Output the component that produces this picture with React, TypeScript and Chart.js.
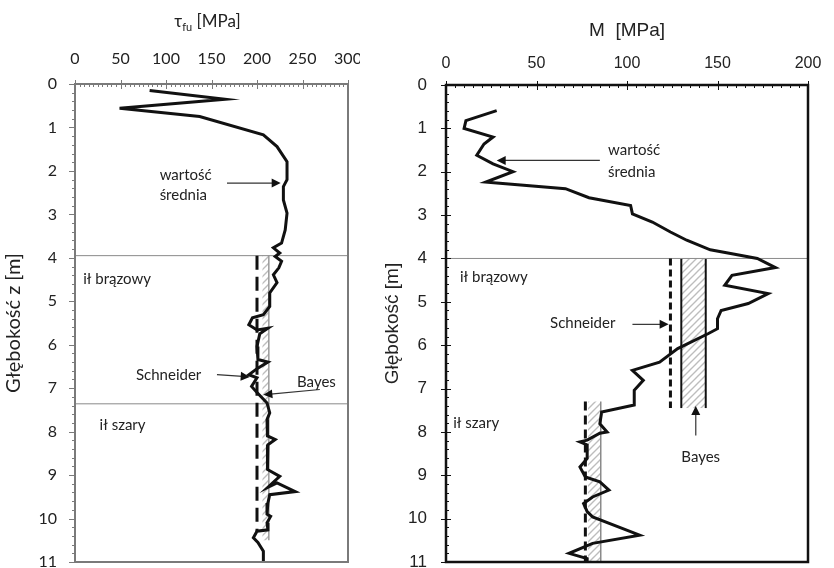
import React, { useEffect, useRef } from 'react';
import { Chart, registerables } from 'chart.js';
Chart.register(...registerables);

// ---------- Left panel: tau_fu profile ----------
const tauDepth = [0.15, 0.35, 0.56, 0.75, 1.17, 1.44, 1.79, 2.2, 2.36, 2.67, 2.97, 3.36, 3.66, 3.77, 3.89, 3.97, 4.08, 4.23, 4.39, 4.57, 4.81, 5.12, 5.31, 5.38, 5.54, 5.66, 5.62, 5.75, 6.04, 6.34, 6.4, 6.55, 6.69, 6.76, 6.96, 7.1, 7.34, 7.57, 7.72, 7.9, 8.1, 8.18, 8.3, 8.72, 8.87, 9.03, 9.28, 9.18, 9.38, 9.45, 9.64, 9.9, 9.95, 10.1, 10.26, 10.29, 10.44, 10.55, 10.75, 10.98];
const tauValue = [82, 165, 49, 137, 207, 222, 233, 233, 229, 229, 233, 231, 227, 218, 225, 220, 227, 224, 218, 222, 214, 214, 207, 195, 191, 200, 212, 203, 200, 201, 212, 200, 191, 200, 194, 200, 211, 214, 211, 212, 211, 220, 212, 211, 212, 225, 212, 222, 242, 214, 212, 211, 215, 211, 212, 200, 196, 201, 207, 207];
const tauTicks = [0, 50, 100, 150, 200, 250, 300];
const tauSchneiderValue = [200, 200];
const tauSchneiderDepth = [3.95, 10.3];
const tauBayesRange = [206, 213];
const tauBayesDepth = [3.95, 10.5];
const tauLayerDepth = [3.95, 7.36];

// ---------- Right panel: M profile ----------
const mDepth = [0.59, 0.82, 1.0, 1.2, 1.36, 1.62, 1.82, 2.0, 2.24, 2.26, 2.39, 2.6, 2.78, 2.97, 3.16, 3.39, 3.58, 3.8, 3.89, 4.0, 4.21, 4.39, 4.62, 4.81, 5.04, 5.2, 5.39, 5.62, 5.73, 6.08, 6.39, 6.58, 6.81, 7.04, 7.38, 7.54, 7.81, 8.0, 8.03, 8.19, 8.23, 8.3, 8.61, 8.81, 9.04, 9.15, 9.34, 9.5, 9.65, 9.84, 9.96, 10.38, 10.57, 10.8, 10.92, 11.0];
const mValue = [28, 11, 10, 26, 21, 17, 26, 37, 22, 28, 66, 79, 102, 103, 114, 124, 133, 146, 158, 172, 182, 158, 154, 178, 167, 152, 150, 150, 145, 128, 118, 103, 109, 104, 104, 86, 85, 89, 85, 78, 74, 78, 78, 74, 77, 85, 90, 81, 76, 78, 81, 107, 81, 68, 78, 78];
const mTicks = [0, 50, 100, 150, 200];
const mSchneiderUpperValue = [124, 124];
const mSchneiderUpperDepth = [4.0, 7.45];
const mSchneiderLowerValue = [77, 77];
const mSchneiderLowerDepth = [7.3, 11.0];
const mBayesUpperRange = [130, 143.5];
const mBayesUpperDepth = [4.0, 7.45];
const mBayesLowerRange = [78.5, 85.5];
const mBayesLowerDepth = [7.3, 11.0];
const mLayerDepth = [4.0];

const depthTicks = [0, 1, 2, 3, 4, 5, 6, 7, 8, 9, 10, 11];

type Note = { text: string; x: number; d: number; align?: CanvasTextAlign };
type Arrow = { x1: number; d1: number; x2: number; d2: number };
type Band = { range: number[]; depth: number[]; leftEdge: string | null; rightEdge: string | null; edgeWidth: number };

const tauNotes: Note[] = [
  { text: 'wartość', x: 93, d: 2.09 },
  { text: 'średnia', x: 93, d: 2.55 },
  { text: 'ił brązowy', x: 9, d: 4.48 },
  { text: 'Schneider', x: 67, d: 6.69 },
  { text: 'Bayes', x: 244, d: 6.85 },
  { text: 'ił szary', x: 27, d: 7.84 },
];
const tauArrows: Arrow[] = [
  { x1: 167, d1: 2.28, x2: 226, d2: 2.28 },
  { x1: 156, d1: 6.69, x2: 192, d2: 6.74 },
  { x1: 269, d1: 7.03, x2: 207, d2: 7.15 },
];
const mNotes: Note[] = [
  { text: 'wartość', x: 89.5, d: 1.51 },
  { text: 'średnia', x: 89.5, d: 2.02 },
  { text: 'ił brązowy', x: 7.7, d: 4.43 },
  { text: 'Schneider', x: 57.5, d: 5.5 },
  { text: 'Bayes', x: 130, d: 8.58 },
  { text: 'ił szary', x: 4, d: 7.8 },
];
const mArrows: Arrow[] = [
  { x1: 85, d1: 1.74, x2: 28, d2: 1.74 },
  { x1: 103, d1: 5.52, x2: 123, d2: 5.52 },
  { x1: 138, d1: 8.08, x2: 138, d2: 7.4 },
];

function pts(xs: number[], ds: number[]) {
  return xs.map((v, i) => ({ x: v, y: ds[i] }));
}

function lineDs(xs: number[], ds: number[], color: string, width: number, dash: number[] = []) {
  return {
    data: pts(xs, ds),
    showLine: true,
    pointRadius: 0,
    borderColor: color,
    backgroundColor: color,
    borderWidth: width,
    borderDash: dash,
    fill: false,
    tension: 0,
  };
}

function hatchPattern(ctx: CanvasRenderingContext2D) {
  const c = document.createElement('canvas');
  c.width = 7;
  c.height = 7;
  const g = c.getContext('2d')!;
  g.fillStyle = '#ffffff';
  g.fillRect(0, 0, 7, 7);
  g.strokeStyle = '#bdbdbd';
  g.lineWidth = 1.4;
  g.beginPath();
  g.moveTo(-1, 8); g.lineTo(8, -1);
  g.moveTo(-4.5, 4.5); g.lineTo(4.5, -4.5);
  g.moveTo(2.5, 11.5); g.lineTo(11.5, 2.5);
  g.stroke();
  return ctx.createPattern(c, 'repeat')!;
}

function overlay(cfg: {
  bands: Band[];
  frameColor: string;
  frameWidth: number;
  minorX: number;
  majorX: number;
  yOutside: boolean;
  notes: Note[];
  arrows: Arrow[];
  noteFont: string;
  drawTitle?: (ctx: CanvasRenderingContext2D, chart: any) => void;
}) {
  return {
    id: 'overlay',
    beforeDatasetsDraw(chart: any) {
      const { ctx } = chart;
      const xs = chart.scales.x;
      const ys = chart.scales.y;
      ctx.save();
      for (const b of cfg.bands) {
        const x1 = xs.getPixelForValue(b.range[0]);
        const x2 = xs.getPixelForValue(b.range[1]);
        const y1 = ys.getPixelForValue(b.depth[0]);
        const y2 = ys.getPixelForValue(b.depth[1]);
        ctx.fillStyle = hatchPattern(ctx);
        ctx.fillRect(x1, y1, x2 - x1, y2 - y1);
        ctx.lineWidth = b.edgeWidth;
        if (b.leftEdge) {
          ctx.strokeStyle = b.leftEdge;
          ctx.beginPath(); ctx.moveTo(x1, y1); ctx.lineTo(x1, y2); ctx.stroke();
        }
        if (b.rightEdge) {
          ctx.strokeStyle = b.rightEdge;
          ctx.beginPath(); ctx.moveTo(x2, y1); ctx.lineTo(x2, y2); ctx.stroke();
        }
      }
      ctx.restore();
    },
    afterDraw(chart: any) {
      const { ctx, chartArea } = chart;
      const xs = chart.scales.x;
      const ys = chart.scales.y;
      const { left, right, top, bottom } = chartArea;
      ctx.save();
      // ticks
      ctx.strokeStyle = cfg.frameColor;
      ctx.lineWidth = 1;
      for (let v = xs.min; v <= xs.max + 1e-6; v += cfg.minorX) {
        const px = Math.round(xs.getPixelForValue(v)) + 0.5;
        const major = Math.abs(v / cfg.majorX - Math.round(v / cfg.majorX)) < 1e-6;
        ctx.beginPath();
        ctx.moveTo(px, top - (major ? 4 : 0));
        ctx.lineTo(px, top + (major ? 5 : 3));
        ctx.stroke();
      }
      for (let i = 0; i <= 55; i++) {
        const d = i * 0.2;
        const py = Math.round(ys.getPixelForValue(d)) + 0.5;
        const major = i % 5 === 0;
        ctx.beginPath();
        if (cfg.yOutside) {
          ctx.moveTo(left - (major ? 6 : 3), py);
          ctx.lineTo(left, py);
        } else {
          ctx.moveTo(left - (major ? 5 : 0), py);
          ctx.lineTo(left + (major ? 5 : 3), py);
        }
        ctx.stroke();
      }
      // frame
      ctx.strokeStyle = cfg.frameColor;
      ctx.lineWidth = cfg.frameWidth;
      ctx.strokeRect(left, top, right - left, bottom - top);
      // arrows
      for (const a of cfg.arrows) {
        const x1 = xs.getPixelForValue(a.x1);
        const y1 = ys.getPixelForValue(a.d1);
        const x2 = xs.getPixelForValue(a.x2);
        const y2 = ys.getPixelForValue(a.d2);
        const ang = Math.atan2(y2 - y1, x2 - x1);
        const L = 9, W = 4.5;
        ctx.strokeStyle = '#333';
        ctx.lineWidth = 1.2;
        ctx.beginPath();
        ctx.moveTo(x1, y1);
        ctx.lineTo(x2 - Math.cos(ang) * L * 0.8, y2 - Math.sin(ang) * L * 0.8);
        ctx.stroke();
        ctx.fillStyle = '#111';
        ctx.beginPath();
        ctx.moveTo(x2, y2);
        ctx.lineTo(x2 - Math.cos(ang) * L - Math.sin(ang) * W, y2 - Math.sin(ang) * L + Math.cos(ang) * W);
        ctx.lineTo(x2 - Math.cos(ang) * L + Math.sin(ang) * W, y2 - Math.sin(ang) * L - Math.cos(ang) * W);
        ctx.closePath();
        ctx.fill();
      }
      // notes
      ctx.fillStyle = '#222';
      ctx.font = cfg.noteFont;
      ctx.textBaseline = 'middle';
      for (const n of cfg.notes) {
        ctx.textAlign = n.align || 'left';
        ctx.fillText(n.text, xs.getPixelForValue(n.x), ys.getPixelForValue(n.d));
      }
      if (cfg.drawTitle) cfg.drawTitle(ctx, chart);
      ctx.restore();
    },
  };
}

function drawTauTitle(ctx: CanvasRenderingContext2D, chart: any) {
  const { left, right } = chart.chartArea;
  const cx = (left + right) / 2 - 4;
  const cy = 22;
  const big = '17px Lato, "DejaVu Sans", sans-serif';
  const small = '11px Lato, "DejaVu Sans", sans-serif';
  ctx.font = big;
  const w1 = ctx.measureText('τ').width;
  const w3 = ctx.measureText(' [MPa]').width;
  ctx.font = small;
  const w2 = ctx.measureText('fu').width;
  let x = cx - (w1 + w2 + w3) / 2;
  ctx.fillStyle = '#222';
  ctx.textAlign = 'left';
  ctx.textBaseline = 'middle';
  ctx.font = big;
  ctx.fillText('τ', x, cy);
  x += w1;
  ctx.font = small;
  ctx.fillText('fu', x, cy + 5);
  x += w2;
  ctx.font = big;
  ctx.fillText(' [MPa]', x, cy);
}

function leftConfig(): any {
  const bands: Band[] = [
    { range: tauBayesRange, depth: tauBayesDepth, leftEdge: null, rightEdge: '#9a9a9a', edgeWidth: 1.5 },
  ];
  return {
    type: 'scatter',
    data: {
      datasets: [
        lineDs(tauValue, tauDepth, '#111', 3),
        lineDs(tauSchneiderValue, tauSchneiderDepth, '#111', 3, [14, 7]),
        ...tauLayerDepth.map((d) => lineDs([0, 300], [d, d], '#8a8a8a', 1)),
      ],
    },
    options: {
      responsive: false,
      animation: false,
      devicePixelRatio: 1,
      events: [],
      layout: { padding: { left: 0, right: 12, top: 0, bottom: 6 } },
      plugins: { legend: { display: false }, tooltip: { enabled: false } },
      scales: {
        x: {
          type: 'linear',
          position: 'top',
          min: 0,
          max: 300,
          grid: { display: false, drawTicks: false },
          border: { display: false },
          afterBuildTicks: (s: any) => { s.ticks = tauTicks.map((v) => ({ value: v })); },
          ticks: { padding: 16, color: '#222', font: { family: 'Lato', size: 16 } },
          afterFit: (s: any) => { s.height = 84; s.paddingLeft = 0; s.paddingRight = 0; },
        },
        y: {
          type: 'linear',
          reverse: true,
          min: 0,
          max: 11,
          grid: { display: false, drawTicks: false },
          border: { display: false },
          afterBuildTicks: (s: any) => { s.ticks = depthTicks.map((v) => ({ value: v })); },
          ticks: { padding: 18, color: '#222', font: { family: 'Lato', size: 16 } },
          title: { display: true, text: 'Głębokość z [m]', color: '#222', font: { family: 'Lato', size: 20 }, padding: { top: 2, bottom: 0 } },
          afterFit: (s: any) => { s.width = 75; s.paddingTop = 0; s.paddingBottom = 0; },
        },
      },
    },
    plugins: [
      overlay({
        bands,
        frameColor: '#7a7a7a',
        frameWidth: 2,
        minorX: 5,
        majorX: 50,
        yOutside: true,
        notes: tauNotes,
        arrows: tauArrows,
        noteFont: '15px Lato, sans-serif',
        drawTitle: drawTauTitle,
      }),
    ],
  };
}

function rightConfig(): any {
  const bands: Band[] = [
    { range: mBayesUpperRange, depth: mBayesUpperDepth, leftEdge: '#111', rightEdge: '#111', edgeWidth: 2 },
    { range: mBayesLowerRange, depth: mBayesLowerDepth, leftEdge: null, rightEdge: '#8a8a8a', edgeWidth: 1.5 },
  ];
  return {
    type: 'scatter',
    data: {
      datasets: [
        lineDs(mValue, mDepth, '#111', 3),
        lineDs(mSchneiderUpperValue, mSchneiderUpperDepth, '#111', 3, [7, 4]),
        lineDs(mSchneiderLowerValue, mSchneiderLowerDepth, '#111', 3, [9, 5]),
        ...mLayerDepth.map((d) => lineDs([0, 200], [d, d], '#8a8a8a', 1)),
      ],
    },
    options: {
      responsive: false,
      animation: false,
      devicePixelRatio: 1,
      events: [],
      layout: { padding: { left: 0, right: 26, top: 0, bottom: 6 } },
      plugins: { legend: { display: false }, tooltip: { enabled: false } },
      scales: {
        x: {
          type: 'linear',
          position: 'top',
          min: 0,
          max: 200,
          grid: { display: false, drawTicks: false },
          border: { display: false },
          afterBuildTicks: (s: any) => { s.ticks = mTicks.map((v) => ({ value: v })); },
          ticks: { padding: 12, color: '#222', font: { family: '"Liberation Sans", Arial, sans-serif', size: 16 } },
          title: { display: true, text: 'M  [MPa]', color: '#222', font: { family: '"Liberation Sans", Arial, sans-serif', size: 19 }, padding: { top: 19, bottom: 0 } },
          afterFit: (s: any) => { s.height = 85; s.paddingLeft = 0; s.paddingRight = 0; },
        },
        y: {
          type: 'linear',
          reverse: true,
          min: 0,
          max: 11,
          grid: { display: false, drawTicks: false },
          border: { display: false },
          afterBuildTicks: (s: any) => { s.ticks = depthTicks.map((v) => ({ value: v })); },
          ticks: { padding: 19, color: '#222', font: { family: '"Liberation Sans", Arial, sans-serif', size: 17 } },
          title: { display: true, text: 'Głębokość [m]', color: '#222', font: { family: '"Liberation Sans", Arial, sans-serif', size: 19 }, padding: { top: 21, bottom: 0 } },
          afterFit: (s: any) => { s.width = 86; s.paddingTop = 0; s.paddingBottom = 0; },
        },
      },
    },
    plugins: [
      overlay({
        bands,
        frameColor: '#111',
        frameWidth: 2.5,
        minorX: 5,
        majorX: 50,
        yOutside: false,
        notes: mNotes,
        arrows: mArrows,
        noteFont: '15px Lato, sans-serif',
      }),
    ],
  };
}

export default function App() {
  const leftRef = useRef<HTMLCanvasElement>(null);
  const rightRef = useRef<HTMLCanvasElement>(null);
  useEffect(() => {
    const c1 = new Chart(leftRef.current!, leftConfig());
    const c2 = new Chart(rightRef.current!, rightConfig());
    return () => {
      c1.destroy();
      c2.destroy();
    };
  }, []);
  return (
    <div style={{ position: 'absolute', left: 0, top: 0, width: 834, height: 568, background: '#fff' }}>
      <canvas ref={leftRef} width={360} height={568} style={{ position: 'absolute', left: 0, top: 0, width: 360, height: 568 }} />
      <canvas ref={rightRef} width={474} height={568} style={{ position: 'absolute', left: 360, top: 0, width: 474, height: 568 }} />
    </div>
  );
}
